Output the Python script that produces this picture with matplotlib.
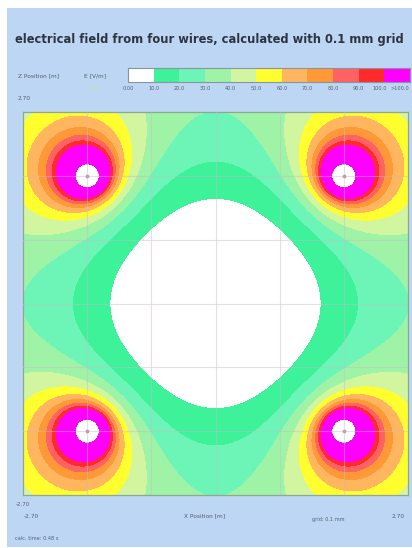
import numpy as np
import matplotlib
matplotlib.use('Agg')
from matplotlib import pyplot as plt
from matplotlib.patches import Rectangle

#wire data (positions in m)
wire_x = [-1.8, 1.8, -1.8, 1.8]
wire_y = [1.8, 1.8, -1.8, -1.8]
wire_strength = [36.0, 36.0, 36.0, 36.0]
wire_radius = 0.17

#field range and colour steps
levels = [0, 10, 20, 30, 40, 50, 60, 70, 80, 90, 100, 1e9]
level_colors = ['#ffffff', '#3ef29a', '#6cf5b6', '#9ef3a6', '#d2f5a0', '#fffe2e',
                '#ffb65e', '#ff9836', '#ff6262', '#ff2b2b', '#ff00ff']
level_labels = ['0.00', '10.0', '20.0', '30.0', '40.0', '50.0', '60.0', '70.0',
                '80.0', '90.0', '100.0', '>100.0']
x_range = [-2.7, 2.7]
y_range = [-2.7, 2.7]
grid_ticks = [-1.8, -0.9, 0.0, 0.9, 1.8]

title = 'electrical field from four wires, calculated with 0.1 mm grid'

#compute field magnitude
xs = np.linspace(x_range[0], x_range[1], 700)
ys = np.linspace(y_range[0], y_range[1], 700)
X, Y = np.meshgrid(xs, ys)
Ex = np.zeros_like(X)
Ey = np.zeros_like(X)
inside = np.zeros(X.shape, dtype=bool)
for wx, wy, k in zip(wire_x, wire_y, wire_strength):
    dx = X - wx
    dy = Y - wy
    r2 = dx**2 + dy**2
    r2[r2 == 0] = 1e-12
    Ex += k*dx/r2
    Ey += k*dy/r2
    inside |= r2 < wire_radius**2
E = np.sqrt(Ex**2 + Ey**2)
E[inside] = 0

W, H = 412, 548
fig = plt.figure(figsize=(W/100, H/100), dpi=100)
fig.patch.set_facecolor('white')
fig.patches.append(Rectangle((7/W, 1/H), 1, (547-8)/H, transform=fig.transFigure,
                             facecolor='#bcd6f4', edgecolor='none', zorder=-5))

txt = '#55606e'
fig.text(15/W, 1-40/H, title, fontsize=8.3, fontweight='bold', color='#2e3440', va='center')

#main field plot
ax = fig.add_axes([23/W, 1-495/H, 385/W, 383/H])
ax.contourf(X, Y, E, levels=levels, colors=level_colors)
for t in grid_ticks:
    ax.axvline(t, color='#c8bcc8', lw=0.8, alpha=0.45, zorder=3)
    ax.axhline(t, color='#c8bcc8', lw=0.8, alpha=0.45, zorder=3)
ax.plot(wire_x, wire_y, 'o', ms=1.8, color='#c89ab8', zorder=4)
ax.set_xlim(x_range)
ax.set_ylim(y_range)
ax.set_xticks([])
ax.set_yticks([])
for s in ax.spines.values():
    s.set_color('#8fa88f')
    s.set_linewidth(0.9)

#colour scale
cax = fig.add_axes([128/W, 1-82/H, 282/W, 14/H])
for i, c in enumerate(level_colors):
    cax.axvspan(i, i+1, color=c, lw=0)
cax.set_xlim(0, len(level_colors))
cax.set_ylim(0, 1)
cax.set_xticks([])
cax.set_yticks([])
for s in cax.spines.values():
    s.set_color('#8a94a0')
    s.set_linewidth(0.8)
for i, lab in enumerate(level_labels):
    if i < 10:
        xp = 128 + i*282/11
    elif i == 10:
        xp = 380
    else:
        xp = 400
    fig.text(xp/W, 1-89/H, lab, fontsize=3.6, color=txt, ha='center', va='center')

#axis texts
fig.text(18/W, 1-76/H, 'Z Position [m]', fontsize=4.2, color=txt, va='center')
fig.text(84/W, 1-76/H, 'E [V/m]', fontsize=4.2, color=txt, va='center')
fig.text(88/W, 1-88/H, '0.00', fontsize=4.0, color='#c6e6a0', va='center')
fig.text(18/W, 1-99/H, '2.70', fontsize=4.2, color=txt, va='center')
fig.text(16/W, 1-504/H, '-2.70', fontsize=4.0, color=txt, va='center')
fig.text(24/W, 1-516/H, '-2.70', fontsize=4.2, color=txt, va='center')
fig.text(205/W, 1-516/H, 'X Position [m]', fontsize=4.2, color=txt, ha='center', va='center')
fig.text(328/W, 1-520/H, 'grid: 0.1 mm', fontsize=3.6, color=txt, ha='center', va='center')
fig.text(405/W, 1-516/H, '2.70', fontsize=4.2, color=txt, ha='right', va='center')
fig.text(15/W, 1-538/H, 'calc. time: 0.48 s', fontsize=3.6, color=txt, va='center')

fig.savefig('out.png', dpi=100)
